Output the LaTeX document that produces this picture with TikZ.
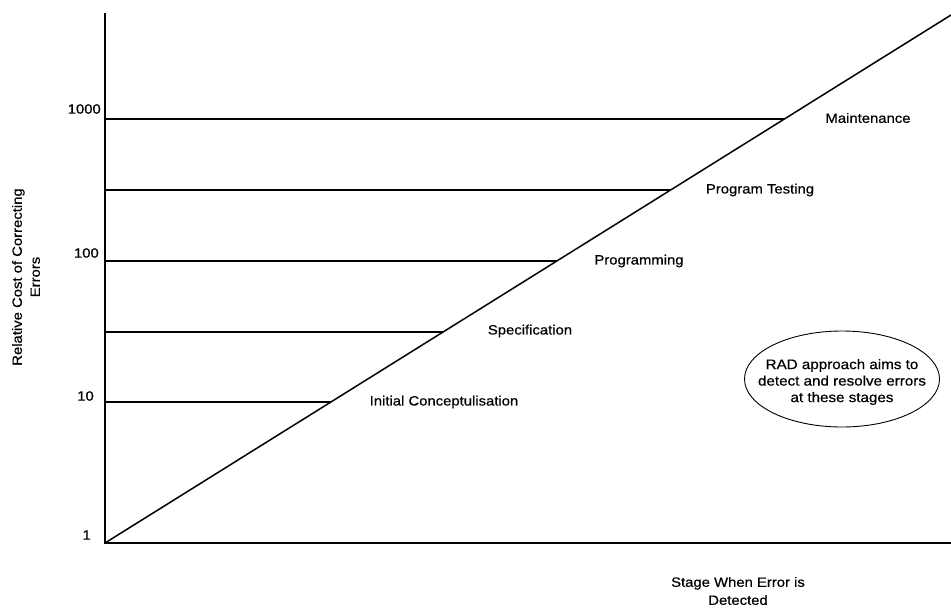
\documentclass[tikz,border=0pt]{standalone}
\usepackage{fontspec}
\setmainfont{Liberation Sans}[FakeStretch=1.1,FakeBold=0.6]
\usetikzlibrary{calc}
\tikzset{
  axis/.style={line width=1.7pt},
  level/.style={line width=1.6pt},
  diag/.style={line width=1.5pt},
  lbl/.style={inner sep=0pt, font=\fontsize{13.5}{18}\selectfont},
  tick/.style={lbl, anchor=east},
  stage/.style={lbl},
  note/.style={inner sep=0pt, align=center, font=\fontsize{13.8}{16.5}\selectfont},
  noteline/.style={line width=0.9pt}
}
\begin{document}
\begin{tikzpicture}[x=1pt,y=-1pt]
\useasboundingbox (0,0) rectangle (951,608);
% axes
\coordinate (O) at (105,543);
\coordinate (ytop) at (105,13);
\coordinate (xend) at (951,543);
\coordinate (dend) at (951,15);
\draw[axis] (ytop) -- (O) -- (xend);
\draw[diag] (O) -- (dend);
% points on diagonal
\coordinate (p1) at ($(O)!0.2670!(dend)$);
\coordinate (p2) at ($(O)!0.3996!(dend)$);
\coordinate (p3) at ($(O)!0.5341!(dend)$);
\coordinate (p4) at ($(O)!0.6686!(dend)$);
\coordinate (p5) at ($(O)!0.8030!(dend)$);
\foreach \p in {p1,p2,p3,p4,p5}{
  \draw[level] (\p -| O) -- (\p);
}
% tick labels
\node[tick] (t1000) at (101,109) {1000};
\node[tick] (t100) at (99,253) {100};
\node[tick] (t10) at (94,396) {10};
\node[tick] (t1) at (91,535) {1};
% stage labels
\node[stage] (maint) at (868,118) {Maintenance};
\node[stage] (ptest) at (760,190) {Program Testing};
\node[stage] (prog) at (639,261) {Programming};
\node[stage] (spec) at (530,331) {Specification};
\node[stage] (init) at (444,402) {Initial Conceptulisation};
% note
\node[note] (rad) at (842,382) {RAD approach aims to\\detect and resolve errors\\at these stages};
\draw[noteline] (842,379) ellipse [x radius=97.5, y radius=48];
% axis titles
\node[lbl, rotate=90, align=center] (ylab) at (26,277) {Relative Cost of Correcting\\Errors};
\node[lbl, align=center] (xlab) at (738,591) {Stage When Error is\\Detected};
\end{tikzpicture}
\end{document}
